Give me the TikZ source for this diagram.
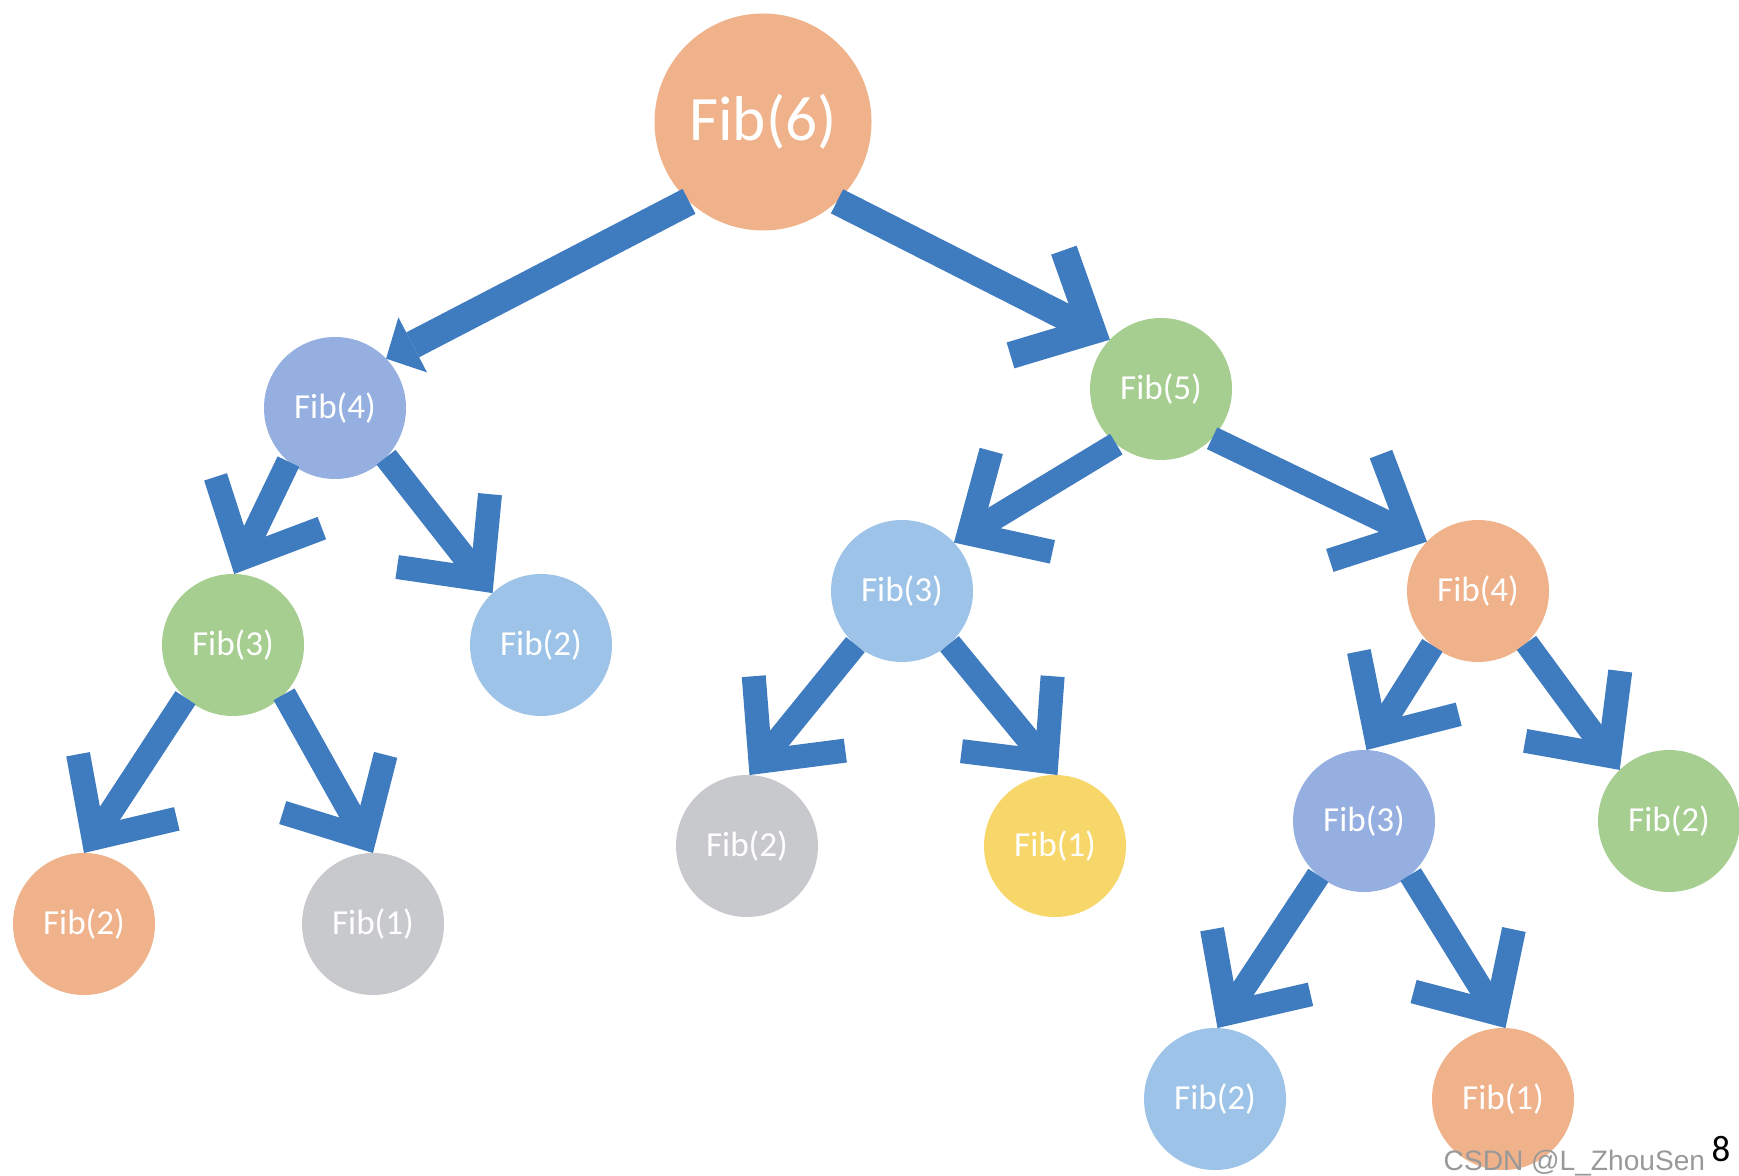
\documentclass[tikz,border=0pt]{standalone}
\usepackage{xcolor}
\usepackage{fontspec}
\setmainfont{Carlito}
\setsansfont{Liberation Sans}
\usetikzlibrary{arrows.meta}

\definecolor{fibOrange}{HTML}{EFB28B}
\definecolor{fibPurple}{HTML}{95AFE0}
\definecolor{fibGreen}{HTML}{A7CE91}
\definecolor{fibBlue}{HTML}{9DC4E8}
\definecolor{fibGrey}{HTML}{C8C9CC}
\definecolor{fibYellow}{HTML}{F7D66A}
\definecolor{arrBlue}{HTML}{3F7BBF}

\begin{document}
\begin{tikzpicture}[
    fib/.style={circle,minimum size=1.42cm,inner sep=0pt,outer sep=0pt,text=white,font=\fontsize{10}{12}\selectfont},
    arr/.style={draw=arrBlue,line width=0.24cm,-{Straight Barb[length=0.62cm,width=1.18cm]}}
    ]
\useasboundingbox (0,0) rectangle (17.39,11.75);

% nodes
\node[fib,fill=fibOrange,minimum size=2.17cm,font=\fontsize{18}{22}\selectfont] (f6) at (7.63,10.53) {Fib(6)};
\node[fib,fill=fibPurple] (f4a) at (3.35,7.67) {Fib(4)};
\node[fib,fill=fibGreen] (f5) at (11.61,7.86) {Fib(5)};
\node[fib,fill=fibGreen] (f3a) at (2.33,5.30) {Fib(3)};
\node[fib,fill=fibBlue] (f2a) at (5.41,5.30) {Fib(2)};
\node[fib,fill=fibOrange] (f2b) at (0.84,2.51) {Fib(2)};
\node[fib,fill=fibGrey] (f1a) at (3.73,2.51) {Fib(1)};
\node[fib,fill=fibBlue] (f3b) at (9.02,5.84) {Fib(3)};
\node[fib,fill=fibOrange] (f4b) at (14.78,5.84) {Fib(4)};
\node[fib,fill=fibGrey] (f2c) at (7.47,3.29) {Fib(2)};
\node[fib,fill=fibYellow] (f1b) at (10.55,3.29) {Fib(1)};
\node[fib,fill=fibPurple] (f3c) at (13.64,3.54) {Fib(3)};
\node[fib,fill=fibGreen] (f2d) at (16.69,3.54) {Fib(2)};
\node[fib,fill=fibBlue] (f2e) at (12.15,0.76) {Fib(2)};
\node[fib,fill=fibOrange] (f1c) at (15.03,0.76) {Fib(1)};

% arrows
\draw[arr,line width=0.28cm,-{Triangle[length=0.3cm,width=0.62cm,line width=0pt]}] (f6.227) -- (f4a.44);
\draw[arr,line width=0.27cm] (f6.313) -- (f5.136);
\draw[arr] (f4a.229) -- (f3a.89);
\draw[arr] (f4a.316) -- (f2a.133);
\draw[arr] (f5.231) -- (f3b.43);
\draw[arr] (f5.316) -- (f4b.136);
\draw[arr] (f3a.228) -- (f2b.90);
\draw[arr] (f3a.316) -- (f1a.90);
\draw[arr] (f3b.229) -- (f2c.88);
\draw[arr] (f3b.312) -- (f1b.88);
\draw[arr] (f4b.230) -- (f3c.88);
\draw[arr] (f4b.313) -- (f2d.134);
\draw[arr] (f3c.230) -- (f2e.88);
\draw[arr] (f3c.311) -- (f1c.88);

% watermark and page number
\node[text={rgb,255:red,153;green,153;blue,153},font=\sffamily\fontsize{8}{9}\selectfont,anchor=base west,inner sep=0pt] (wm) at (14.43,0.05) {CSDN @L\_ZhouSen};
\node[font=\fontsize{10.5}{12}\selectfont,inner sep=0pt] (pg) at (17.21,0.26) {8};
\end{tikzpicture}
\end{document}
